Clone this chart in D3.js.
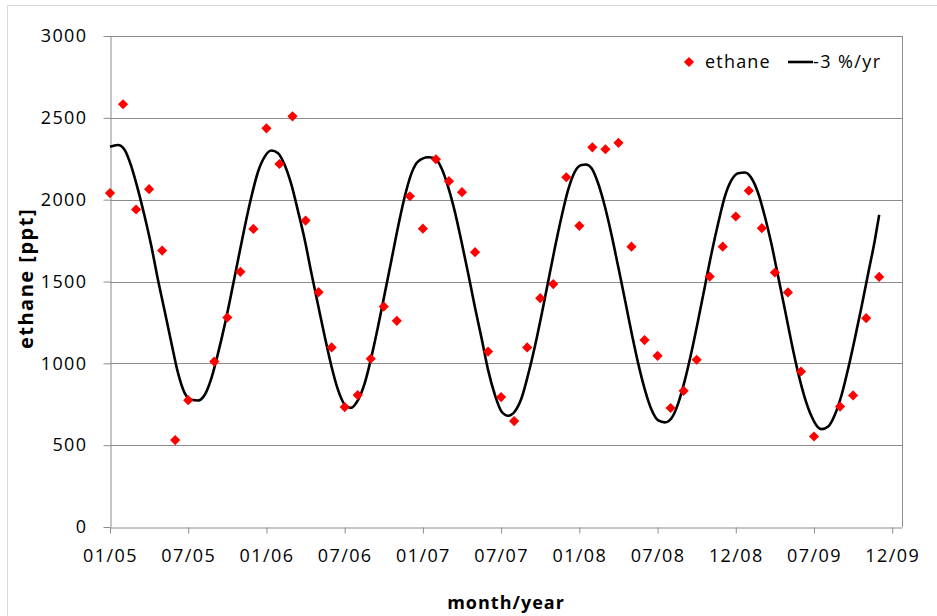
<!DOCTYPE html>
<html>
<head>
<meta charset="utf-8">
<script src="https://cdn.jsdelivr.net/npm/d3@7"></script>
<style>
  body { margin: 0; background: #fff; }
  text { font-family: "Open Sans", "Noto Sans", sans-serif; fill: #000; }
</style>
</head>
<body>
<svg id="chart" width="937" height="616"></svg>
<script>
// months since 01/2005 (08/05 and 08/09 have no sample)
const ethaneMonth = [0,1,2,3,4,5,6,8,9,10,11,12,13,14,15,16,17,18,19,20,21,22,23,24,25,26,27,28,29,
                     30,31,32,33,34,35,36,37,38,39,40,41,42,43,44,45,46,47,48,49,50,51,52,53,54,56,57,58,59];
const ethanePpt = [2040,2583,1940,2064,1689,531,775,1011,1280,1559,1821,2436,2218,2509,1872,1435,1097,733,806,1028,1347,1260,2021,1823,
                   2247,2113,2046,1679,1072,794,647,1097,1398,1484,2137,1840,2320,2308,2347,1713,1142,1046,727,832,1022,1530,1713,1897,
                   2055,1826,1555,1433,950,553,736,804,1276,1528];

// fitted curve "-3 %/yr"
const fitMonth = [0,0.61,1.13,1.64,2.15,2.66,3.18,3.68,4.2,4.71,5.22,5.73,6.25,6.75,7.27,7.78,8.29,8.8,9.31,9.82,10.34,10.85,11.36,11.87,
                  12.38,12.89,13.4,13.92,14.43,14.94,15.45,15.96,16.47,16.99,17.49,18.01,18.45,19.03,19.54,20.06,20.56,21.08,21.59,22.1,
                  22.61,23.13,23.63,24.4,24.91,25.43,25.93,26.45,26.96,27.47,27.98,28.5,29,29.52,30.03,30.54,31.05,31.57,32.07,32.59,
                  33.1,33.61,34.12,34.64,35.14,35.66,36.17,36.5,36.94,37.44,37.96,38.47,38.98,39.5,40.01,40.51,41.03,41.54,42.05,42.56,
                  43.08,43.59,44.1,44.61,45.12,45.63,46.14,46.65,47.16,47.68,48.19,48.7,49.21,49.72,50.23,50.75,51.25,51.77,52.28,
                  52.79,53.3,53.82,54.32,54.58,55.09,55.6,56.12,56.63,57.14,57.65,58.16,58.67,59];
const fitPpt = [2324,2334,2304,2202,2060,1897,1713,1510,1317,1124,940,818,777,773,808,910,1062,1235,1429,1632,1836,2019,2172,2263,
                2300,2284,2212,2090,1927,1754,1551,1357,1164,981,838,747,728,777,879,1042,1225,1429,1632,1836,
                2019,2162,2233,2259,2253,2192,2080,1927,1744,1551,1347,1154,960,808,706,680,706,788,930,1103,
                1296,1500,1704,1897,2060,2172,2212,2215,2192,2100,1958,1785,1591,1388,1185,1001,838,716,651,639,
                666,757,899,1072,1266,1470,1673,1856,2019,2121,2162,2166,2131,2039,1897,1724,1530,1327,1124,
                940,788,675,608,598,614,686,808,971,1154,1347,1551,1754,1907];

const tickMonth = [0,6,12,18,24,30,36,42,48,54,60];
const tickLabel = ["01/05","07/05","01/06","07/06","01/07","07/07","01/08","07/08","12/08","07/09","12/09"];
const yTicks = [0,500,1000,1500,2000,2500,3000];

const svg = d3.select("#chart"),
      margin = {top: 36, right: 35, bottom: 89, left: 110},
      width  = +svg.attr("width") - margin.left - margin.right,
      height = +svg.attr("height") - margin.top - margin.bottom,
      x = d3.scaleLinear().domain([0, 60.75]).range([0, width]),
      y = d3.scaleLinear().domain([0, 3000]).range([height, 0]),
      g = svg.append("g").attr("transform", `translate(${margin.left},${margin.top})`);

// outer chart frame
svg.append("rect")
  .attr("x", 7.5).attr("y", 5.5)
  .attr("width", 960).attr("height", 640)
  .style("fill", "none").style("stroke", "#d9d9d9");

// gridlines
g.selectAll(".grid")
  .data(yTicks.slice(1))
  .enter().append("line")
  .attr("class", "grid")
  .attr("x1", 0).attr("x2", width)
  .attr("y1", d => Math.round(y(d)) + 0.5)
  .attr("y2", d => Math.round(y(d)) + 0.5)
  .style("stroke", "#8c8c8c").style("stroke-width", 1);

// plot area border (right side)
g.append("line")
  .attr("x1", width + 0.5).attr("x2", width + 0.5)
  .attr("y1", 0).attr("y2", height)
  .style("stroke", "#8c8c8c");

g.append("g")
  .attr("class", "axis axis-y")
  .attr("transform", "translate(0.5,0)")
  .call(d3.axisLeft(y).tickValues(yTicks).tickFormat(d3.format("d")).tickSize(7).tickPadding(16).tickSizeOuter(0));

g.append("g")
  .attr("class", "axis axis-x")
  .attr("transform", `translate(0,${height + 0.5})`)
  .call(d3.axisBottom(x).tickValues(tickMonth).tickFormat((d, i) => tickLabel[i]).tickSize(6).tickPadding(16).tickSizeOuter(0));

svg.selectAll(".axis path, .axis line").style("stroke", "#8c8c8c");
svg.selectAll(".axis text")
  .style("font-size", "18px")
  .style("letter-spacing", "1.4px")
  .style("font-family", '"Open Sans", sans-serif')
  .style("fill", "#000");

// fitted curve
const line = d3.line()
  .x((d, i) => x(fitMonth[i]))
  .y(d => y(d))
  .curve(d3.curveMonotoneX);

g.append("path")
  .datum(fitPpt)
  .attr("d", line)
  .style("fill", "none")
  .style("stroke", "#000")
  .style("stroke-width", 2.6);

// ethane samples as red diamonds
const diamond = d3.symbol().type(d3.symbolSquare).size(52);
g.selectAll(".pt")
  .data(ethanePpt)
  .enter().append("path")
  .attr("class", "pt")
  .attr("d", diamond)
  .attr("transform", (d, i) => `translate(${x(ethaneMonth[i])},${y(d)}) rotate(45)`)
  .style("fill", "#ff0000");

// axis titles
svg.append("text")
  .attr("x", margin.left + width / 2)
  .attr("y", 609)
  .attr("text-anchor", "middle")
  .style("font-size", "18px")
  .style("font-weight", "bold")
  .style("letter-spacing", "1px")
  .text("month/year");

svg.append("text")
  .attr("transform", `translate(33,${margin.top + height / 2 - 3}) rotate(-90)`)
  .attr("text-anchor", "middle")
  .style("font-size", "20px")
  .style("font-weight", "bold")
  .style("letter-spacing", "1.5px")
  .text("ethane [ppt]");

// legend
const legend = svg.append("g");
legend.append("path")
  .attr("d", diamond)
  .attr("transform", "translate(689,62) rotate(45)")
  .style("fill", "#ff0000");
legend.append("text")
  .attr("x", 705).attr("y", 68)
  .style("font-size", "18px")
  .style("letter-spacing", "1.2px")
  .text("ethane");
legend.append("line")
  .attr("x1", 788).attr("x2", 813)
  .attr("y1", 62).attr("y2", 62)
  .style("stroke", "#000").style("stroke-width", 2.6);
legend.append("text")
  .attr("x", 813).attr("y", 68)
  .style("font-size", "18px")
  .style("letter-spacing", "1.4px")
  .text("-3 %/yr");
</script>
</body>
</html>
